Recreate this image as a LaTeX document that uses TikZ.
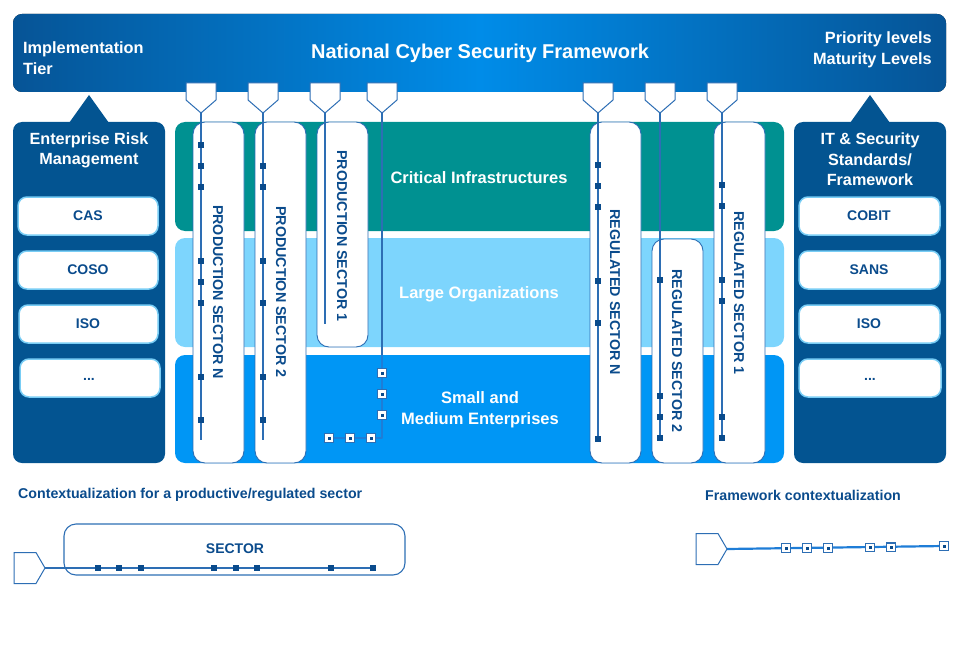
\documentclass[tikz,border=0pt]{standalone}
\usepackage{fontspec}
\setmainfont{Liberation Sans}
\definecolor{panelblue}{RGB}{3,84,145}
\definecolor{barL}{RGB}{6,84,150}
\definecolor{barM}{RGB}{0,140,232}
\definecolor{tealband}{RGB}{0,145,145}
\definecolor{lightband}{RGB}{125,213,253}
\definecolor{brightband}{RGB}{0,150,245}
\definecolor{txtblue}{RGB}{10,75,140}
\definecolor{linblue}{RGB}{45,110,180}
\definecolor{thickblue}{RGB}{30,125,215}
\definecolor{boxedge}{RGB}{120,205,245}
\tikzset{
  wtxt/.style={text=white,font=\bfseries\fontsize{16.2}{20.3}\selectfont,align=center,inner sep=0},
  bartxt/.style={text=white,font=\bfseries\fontsize{16.3}{21}\selectfont,inner sep=0},
  bandtxt/.style={text=white,font=\bfseries\fontsize{16.5}{21}\selectfont,align=center,inner sep=0},
  boxtxt/.style={text=txtblue,font=\bfseries\fontsize{14}{15}\selectfont,inner sep=0},
  itembox/.style={draw=boxedge,line width=1.5pt,fill=white,rounded corners=9pt},
  pillar/.style={draw=linblue,line width=0.9pt,fill=white,rounded corners=12pt},
  pillartxt/.style={text=txtblue,font=\bfseries\fontsize{14.3}{15}\selectfont,inner sep=0,rotate=-90},
  conn/.style={draw=linblue,line width=1.2pt},
  thickconn/.style={draw=thickblue,line width=2.2pt},
  pentstyle/.style={draw=linblue,line width=1pt,fill=white,line join=miter},
  sq/.style={fill=txtblue,minimum size=6pt,inner sep=0,draw=none},
  wsq/.style={fill=white,draw=linblue,line width=1.1pt,minimum size=8.5pt,inner sep=0,
    path picture={\fill[txtblue] ([xshift=-1.5pt,yshift=-1.5pt]path picture bounding box.center) rectangle ++(3pt,3pt);}},
  legtxt/.style={text=txtblue,font=\bfseries\fontsize{14.2}{16}\selectfont,inner sep=0},
  pentdown/.pic={\draw[pentstyle] (-15,-30) -- (15,-30) -- (15,-13) -- (0,0) -- (-15,-13) -- cycle;},
  pentright/.pic={\draw[pentstyle] (-31,-15.5) -- (-9,-15.5) -- (0,0) -- (-9,15.5) -- (-31,15.5) -- cycle;}
}
\begin{document}
\begin{tikzpicture}[x=1pt,y=-1pt]
\useasboundingbox (0,0) rectangle (965,663);

% top bar
\fill[rounded corners=9pt,left color=barL,right color=barL,middle color=barM] (13,14) rectangle (946,92);
\node[bartxt,anchor=west,align=left] (impl) at (23,58) {Implementation\\Tier};
\node[bartxt,font=\bfseries\fontsize{20}{22}\selectfont] (ncsf) at (480,53) {National Cyber Security Framework};
\node[bartxt,anchor=east,align=right] (prio) at (932,50) {Priority levels\\Maturity Levels};

% side panels
\fill[panelblue,rounded corners=9pt] (13,122) rectangle (165,463);
\fill[panelblue] (69,123) -- (89,95) -- (109,123) -- cycle;
\fill[panelblue,rounded corners=9pt] (794,122) rectangle (946,463);
\fill[panelblue] (850,123) -- (870,95) -- (890,123) -- cycle;

\node[wtxt] (erm) at (89,150) {Enterprise Risk\\Management};
\node[wtxt] (its) at (870,159.5) {IT \& Security\\Standards/\\Framework};

\draw[itembox] (18,197) rectangle (158,235);
\node[boxtxt] (cas) at (88,216) {CAS};
\draw[itembox] (18,251) rectangle (158,289);
\node[boxtxt] (coso) at (88,270) {COSO};
\draw[itembox] (19,305) rectangle (158,343);
\node[boxtxt] (iso1) at (88,324) {ISO};
\draw[itembox] (20,359) rectangle (160,397);
\node[boxtxt] (dots1) at (89,379) {...};

\draw[itembox] (799,197) rectangle (940,235);
\node[boxtxt] (cobit) at (869,216) {COBIT};
\draw[itembox] (799,251) rectangle (940,289);
\node[boxtxt] (sans) at (869,270) {SANS};
\draw[itembox] (799,305) rectangle (940,343);
\node[boxtxt] (iso2) at (869,324) {ISO};
\draw[itembox] (799,359) rectangle (941,397);
\node[boxtxt] (dots2) at (870,379) {...};

% bands
\fill[tealband,rounded corners=10pt] (175,122) rectangle (784,231);
\fill[lightband,rounded corners=10pt] (175,238) rectangle (784,347);
\fill[brightband,rounded corners=10pt] (175,355) rectangle (784,463);
\node[bandtxt] (ci) at (479,178) {Critical Infrastructures};
\node[bandtxt] (lo) at (479,294) {Large Organizations};
\node[bandtxt] (sme) at (480,410) {Small and\\Medium Enterprises};

% pillars
\draw[pillar] (193,122) rectangle (244,463);
\draw[pillar] (255,122) rectangle (306,463);
\draw[pillar] (317,122) rectangle (368,347);
\draw[pillar] (590,122) rectangle (641,463);
\draw[pillar] (652,239) rectangle (703,463);
\draw[pillar] (714,122) rectangle (765,463);
\node[pillartxt] (psN) at (218,292) {PRODUCTION SECTOR N};
\node[pillartxt] (ps2) at (281,292) {PRODUCTION SECTOR 2};
\node[pillartxt] (ps1) at (342,236) {PRODUCTION SECTOR 1};
\node[pillartxt] (rsN) at (615,292) {REGULATED SECTOR N};
\node[pillartxt] (rs2) at (677,351) {REGULATED SECTOR 2};
\node[pillartxt] (rs1) at (739,293) {REGULATED SECTOR 1};

% pentagon connectors
\foreach \x/\n in {201/a,263/b,325/c,382/d,598/e,660/f,722/g}{
  \coordinate (p\n) at (\x,113);
  \pic at (p\n) {pentdown};
}
\coordinate (ea) at (201,440);
\coordinate (eb) at (263,440);
\coordinate (ec) at (325,324);
\coordinate (ed) at (382,438);
\coordinate (edd) at (325,438);
\coordinate (ee) at (598,438);
\coordinate (ef) at (660,438);
\coordinate (eg) at (722,438);
\draw[conn] (pa) -- (ea);
\draw[conn] (pb) -- (eb);
\draw[conn] (pc) -- (ec);
\draw[conn] (pd) -- (382,355);
\draw[thickconn,line join=round] (382,355) -- (ed) -- (edd);
\draw[conn] (pe) -- (ee);
\draw[conn] (pf) -- (ef);
\draw[conn] (pg) -- (eg);

% squares
\foreach \y [count=\i] in {145,166,187,261,282,303,377,420}{\node[sq] (sa\i) at (201,\y) {};}
\foreach \y [count=\i] in {166,187,261,303,377,420}{\node[sq] (sb\i) at (263,\y) {};}
\foreach \y [count=\i] in {165,186,207,281,323,439}{\node[sq] (se\i) at (598,\y) {};}
\foreach \y [count=\i] in {280,396,417,438}{\node[sq] (sf\i) at (660,\y) {};}
\foreach \y [count=\i] in {185,206,280,301,417,438}{\node[sq] (sg\i) at (722,\y) {};}
\foreach \y [count=\i] in {373,394,415}{\node[wsq] (wd\i) at (382,\y) {};}
\foreach \x [count=\i] in {329,350,371}{\node[wsq] (wh\i) at (\x,438) {};}

% bottom legends
\node[legtxt,anchor=west] (leg1) at (18,495) {Contextualization for a productive/regulated sector};
\node[legtxt,anchor=west] (leg2) at (705,495) {Framework contextualization};

\draw[draw=linblue,line width=1.1pt,rounded corners=12pt] (64,524) rectangle (405,575);
\node[text=txtblue,font=\bfseries\fontsize{14}{15}\selectfont,inner sep=0] (sector) at (235,549) {SECTOR};
\coordinate (la) at (45,568);
\coordinate (lb) at (373,568);
\draw[conn] (la) -- (lb);
\pic at (la) {pentright};
\foreach \x [count=\i] in {98,119,141,214,236,257,331,373}{\node[sq] (ls\i) at (\x,568) {};}

\coordinate (ra) at (727,549);
\coordinate (rb) at (944,546);
\draw[thickconn] (ra) -- (rb);
\pic at (ra) {pentright};
\foreach \x/\y [count=\i] in {786/548,807/548,828/548,870/547.5,891/547.2,944/546}{\node[wsq] (rs\i) at (\x,\y) {};}
\end{tikzpicture}
\end{document}
